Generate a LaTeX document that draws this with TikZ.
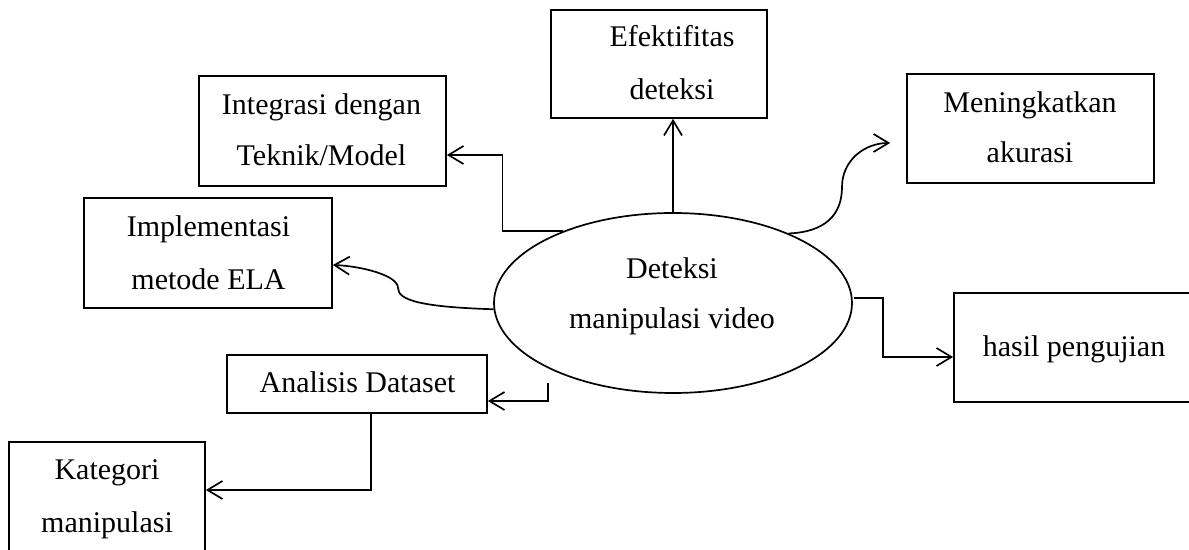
\documentclass[tikz,border=0pt]{standalone}
\usepackage{fontspec}
\setmainfont{Liberation Serif}
\usetikzlibrary{arrows.meta,shapes.geometric,calc}

\begin{document}
\begin{tikzpicture}[x=0.5pt,y=-0.5pt,
  line width=0.85pt,
  box/.style={draw, rectangle, inner sep=0pt},
  txt/.style={anchor=base, inner sep=0pt, font=\fontsize{15}{18}\selectfont},
  link/.style={draw, -{Straight Barb[length=7.5pt,width=9pt]}},
]
\useasboundingbox (0,0) rectangle (1189,550);
\clip (0,0) rectangle (1189,550);

% boxes
\node[box, minimum width=108pt, minimum height=54pt]     (eff)   at (659,64)      {};
\node[box, minimum width=123.5pt, minimum height=55pt]   (integ) at (322.5,131)   {};
\node[box, minimum width=124pt, minimum height=55pt]     (impl)  at (208,253)     {};
\node[box, minimum width=123.5pt, minimum height=54.5pt] (meni)  at (1030.5,128.5){};
\node[box, minimum width=119pt, minimum height=54.5pt]   (hasil) at (1073,347.5)  {};
\node[box, minimum width=130pt, minimum height=29pt]     (anal)  at (357,384)     {};
\node[box, minimum width=98pt, minimum height=59pt]      (kat)   at (107,501)     {};
\node[draw, ellipse, minimum width=179pt, minimum height=90pt, inner sep=0pt] (main) at (673,303) {};

% labels
\node[txt] at (672,47)  {Efektifitas};
\node[txt] at (672,100) {deteksi};
\node[txt] at (321.5,115) {Integrasi dengan};
\node[txt] at (321.5,166) {Teknik/Model};
\node[txt] at (208.5,237) {Implementasi};
\node[txt] at (208.5,290) {metode ELA};
\node[txt] at (1030,113) {Meningkatkan};
\node[txt] at (1030,163) {akurasi};
\node[txt] at (1074,357) {hasil pengujian};
\node[txt] at (357.5,393) {Analisis Dataset};
\node[txt] at (107,480) {Kategori};
\node[txt] at (107,532) {manipulasi};
\node[txt] at (672,279) {Deteksi};
\node[txt] at (672,329) {manipulasi video};

% connectors
\coordinate (meniTip) at ($(meni.west)+(-16,14.5)$);
\coordinate (analFrom) at ($(main.center)+(-125,80)$);

\draw[link] (main.north) -- (main.north |- eff.south);
\draw[link] (main.147) -- ++(-60,0) |- ($(integ.east)+(0,24)$);
\draw[link] (main.182) .. controls (420,307) and (398,300) .. (398,288)
                       .. controls (398,275) and (360,266) .. ($(impl.east)+(0,12)$);
\draw[link] (main.31) .. controls (825,232) and (842,215) .. (842,187)
                      .. controls (842,160) and (865,143) .. (meniTip);
\draw[link] ($(main.east)+(1,-5)$) -- ++(29,0) |- ($(hasil.west)+(0,9.5)$);
\draw[link] (analFrom) |- ($(anal.east)+(0,17)$);
\draw[link] ($(anal.south)+(14,0)$) |- ($(kat.east)+(0,-11)$);
\end{tikzpicture}
\end{document}
